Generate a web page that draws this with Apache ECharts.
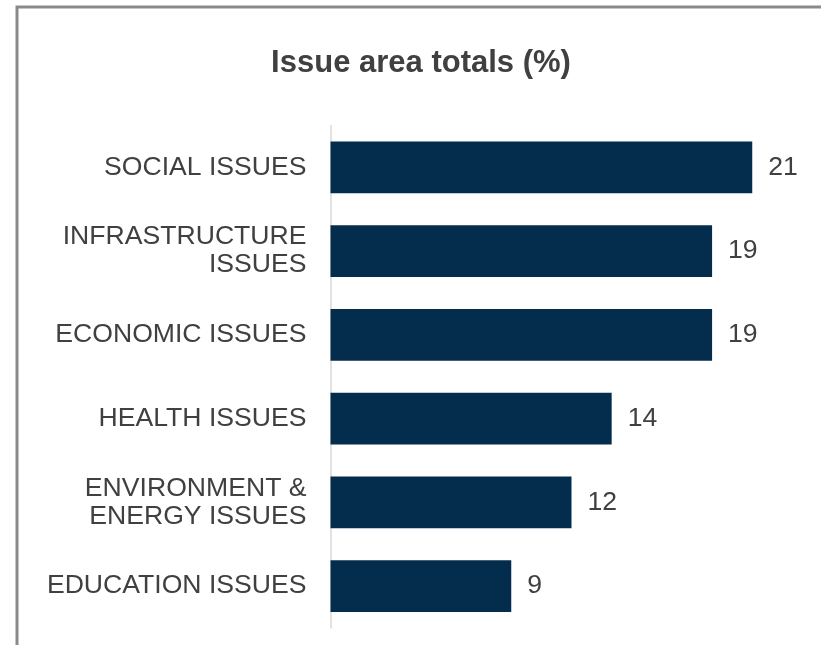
<!DOCTYPE html>
<html>
<head>
<meta charset="utf-8">
<script src="https://cdn.jsdelivr.net/npm/echarts@6/dist/echarts.min.js"></script>
<style>
  html, body { margin: 0; padding: 0; background: #ffffff; }
  #chart { width: 821px; height: 645px; }
</style>
</head>
<body>
<div id="chart"></div>
<script>
// Issue areas, listed top to bottom
const categories = [
  'SOCIAL ISSUES',
  'INFRASTRUCTURE\nISSUES',
  'ECONOMIC ISSUES',
  'HEALTH ISSUES',
  'ENVIRONMENT &\nENERGY ISSUES',
  'EDUCATION ISSUES'
];
// Share of total (%)
const totals = [21, 19, 19, 14, 12, 9];

const textColor = '#404040';
const barColor = '#042c4d';
const font = 'Liberation Sans, Arial, sans-serif';

const chart = echarts.init(document.getElementById('chart'), null, { renderer: 'canvas' });

chart.setOption({
  animation: false,
  backgroundColor: '#ffffff',
  title: {
    text: 'Issue area totals (%)',
    left: 416,
    top: 43,
    textAlign: 'center',
    textStyle: {
      fontFamily: font,
      fontSize: 31,
      fontWeight: 'bold',
      color: textColor
    }
  },
  graphic: [{
    type: 'rect',
    silent: true,
    shape: { x: 17, y: 7, width: 830, height: 660 },
    style: { fill: 'none', stroke: '#8a8a8a', lineWidth: 3 }
  }],
  grid: {
    left: 330.5,
    right: 8.5,
    top: 125.5,
    bottom: 17,
    containLabel: false
  },
  xAxis: {
    type: 'value',
    min: 0,
    max: 24,
    show: false
  },
  yAxis: {
    type: 'category',
    inverse: true,
    data: categories,
    axisLine: { show: true, lineStyle: { color: '#d9d9d9', width: 1.5 } },
    axisTick: { show: false },
    splitLine: { show: false },
    axisLabel: {
      margin: 24,
      fontFamily: font,
      fontSize: 26.6,
      lineHeight: 28,
      color: textColor,
      align: 'right'
    }
  },
  series: [{
    type: 'bar',
    data: totals,
    barCategoryGap: '38%',
    itemStyle: { color: barColor },
    label: {
      show: true,
      position: 'right',
      distance: 16,
      fontFamily: font,
      fontSize: 26.6,
      color: textColor
    }
  }]
});
</script>
</body>
</html>
